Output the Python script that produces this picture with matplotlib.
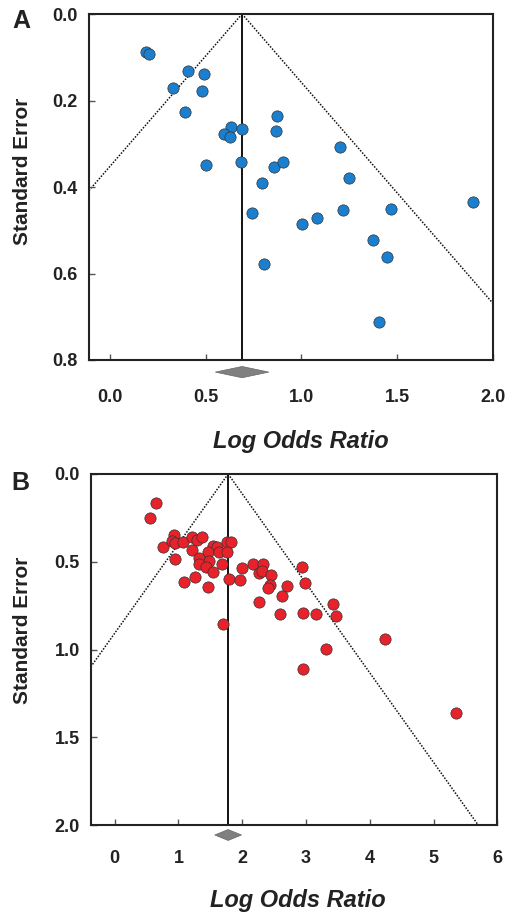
import matplotlib
matplotlib.use('Agg')
import matplotlib.pyplot as plt
import numpy as np

plt.rcParams['font.family'] = ['Liberation Sans', 'DejaVu Sans']

# --- Panel A: estudios (log odds ratio, error estandar) ---
lor_a = [0.188, 0.206, 0.405, 0.489, 0.330, 0.482, 0.394, 0.873, 0.632, 0.689,
         0.867, 0.597, 0.627, 1.204, 0.499, 0.682, 0.855, 0.902, 1.250, 0.794,
         1.897, 0.743, 1.218, 1.468, 1.082, 1.005, 1.375, 1.445, 0.806, 1.405]
se_a = [0.089, 0.093, 0.132, 0.138, 0.171, 0.177, 0.227, 0.235, 0.261, 0.265,
        0.271, 0.277, 0.284, 0.308, 0.348, 0.342, 0.353, 0.343, 0.380, 0.391,
        0.435, 0.459, 0.454, 0.451, 0.472, 0.486, 0.523, 0.561, 0.579, 0.712]
pooled_a = 0.69
ci_a = (0.55, 0.83)

# --- Panel B ---
lor_b = [0.652, 0.549, 0.762, 0.925, 0.903, 0.950, 1.075, 1.207, 1.295, 1.368,
         1.217, 0.950, 1.536, 1.599, 1.467, 1.635, 1.765, 1.818, 1.765, 1.317,
         1.478, 1.317, 1.431, 1.677, 1.536, 1.259, 1.082, 1.462, 1.796, 1.693,
         1.991, 1.959, 2.163, 2.330, 2.262, 2.314, 2.455, 2.429, 2.408, 2.696,
         2.266, 2.627, 2.591, 2.951, 2.940, 2.978, 3.160, 3.427, 3.464, 4.242,
         3.317, 2.947, 5.354]
se_b = [0.167, 0.249, 0.416, 0.348, 0.380, 0.395, 0.389, 0.361, 0.376, 0.361,
        0.433, 0.484, 0.408, 0.414, 0.446, 0.446, 0.387, 0.389, 0.444, 0.480,
        0.497, 0.515, 0.528, 0.515, 0.560, 0.589, 0.614, 0.646, 0.596, 0.857,
        0.537, 0.604, 0.513, 0.515, 0.566, 0.553, 0.577, 0.632, 0.650, 0.636,
        0.728, 0.695, 0.796, 0.792, 0.528, 0.619, 0.798, 0.743, 0.811, 0.940,
        0.995, 1.113, 1.364]
pooled_b = 1.78
ci_b = (1.57, 1.99)

W, H = 506, 916


def funnel(ax, lor, se, pooled, ci, color, xlim, xticks, ymax, yticks,
           diamond_y, diamond_h, tick_pad):
    ax.scatter(lor, se, s=66, color=color, edgecolor='#333333', linewidth=0.5,
               zorder=3)
    ax.axvline(pooled, color='#111111', linewidth=1.4, zorder=2)
    s = np.array([0, ymax * 1.5])
    ax.plot(pooled - 1.96 * s, s, color='#111111', linestyle=(0, (1, 1)),
            linewidth=1.1, zorder=1)
    ax.plot(pooled + 1.96 * s, s, color='#111111', linestyle=(0, (1, 1)),
            linewidth=1.1, zorder=1)
    # rombo del efecto combinado, debajo del eje
    ax.fill([ci[0], pooled, ci[1], pooled],
            [diamond_y, diamond_y - diamond_h, diamond_y, diamond_y + diamond_h],
            color='#808080', edgecolor='#666666', linewidth=0.5, clip_on=False)
    ax.set_xlim(*xlim)
    ax.set_ylim(ymax, 0)
    ax.set_xticks(xticks)
    ax.set_yticks(yticks)
    ax.set_yticklabels([f'{v:.1f}' for v in yticks])
    for sp in ax.spines.values():
        sp.set_linewidth(1.5)
        sp.set_color('#222222')
    ax.tick_params(direction='in', length=4, width=1, color='#555555',
                   labelsize=13)
    ax.tick_params(axis='x', pad=tick_pad)
    ax.tick_params(axis='y', pad=8)
    for lab in ax.get_xticklabels() + ax.get_yticklabels():
        lab.set_fontweight('bold')
        lab.set_color('#222222')


fig = plt.figure(figsize=(W / 100, H / 100), dpi=100)

ax1 = fig.add_axes([89 / W, 1 - 360 / H, 403.7 / W, 346 / H])
funnel(ax1, lor_a, se_a, pooled_a, ci_a, '#1a7fcf', (-0.11, 2.0),
       [0.0, 0.5, 1.0, 1.5, 2.0], 0.8, [0.0, 0.2, 0.4, 0.6, 0.8],
       0.828, 0.013, 21)
ax1.set_xticklabels(['0.0', '0.5', '1.0', '1.5', '2.0'])

ax2 = fig.add_axes([91 / W, 1 - 825 / H, 406.3 / W, 351 / H])
funnel(ax2, lor_b, se_b, pooled_b, ci_b, '#e8222a', (-0.37, 6.0),
       [0, 1, 2, 3, 4, 5, 6], 2.0, [0.0, 0.5, 1.0, 1.5, 2.0],
       2.057, 0.031, 18)

txt = dict(fontweight='bold', color='#222222')
fig.text(301 / W, 1 - 448 / H, 'Log Odds Ratio', ha='center', va='baseline',
         fontsize=17, fontstyle='italic', **txt)
fig.text(298 / W, 1 - 907 / H, 'Log Odds Ratio', ha='center', va='baseline',
         fontsize=17, fontstyle='italic', **txt)
fig.text(23 / W, 1 - 171 / H, 'Standard Error', ha='center', va='center',
         rotation=90, fontsize=15, **txt)
fig.text(23 / W, 1 - 630 / H, 'Standard Error', ha='center', va='center',
         rotation=90, fontsize=15, **txt)
fig.text(21 / W, 1 - 21.5 / H, 'A', ha='center', va='center', fontsize=18, **txt)
fig.text(20 / W, 1 - 483.5 / H, 'B', ha='center', va='center', fontsize=18, **txt)

fig.savefig('out.png', dpi=100, facecolor='white')
